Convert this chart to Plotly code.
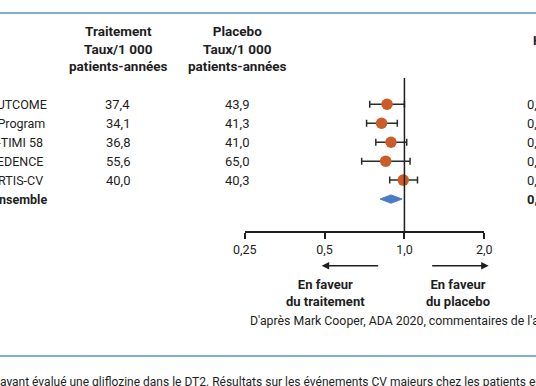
import numpy as np
import plotly.graph_objects as go

W, H = 536, 386

# ---------------- data ----------------
studies = ["EMPA-REG OUTCOME", "CANVAS Program", "DECLARE-TIMI 58", "CREDENCE", "VERTIS-CV"]
overall_label = "Ensemble"
taux_traitement = ["37,4", "34,1", "36,8", "55,6", "40,0"]
taux_placebo = ["43,9", "41,3", "41,0", "65,0", "40,3"]
hr = [0.86, 0.82, 0.89, 0.85, 0.99]
hr_low = [0.74, 0.72, 0.78, 0.69, 0.88]
hr_high = [1.00, 0.94, 1.02, 1.05, 1.12]
overall_hr = 0.89
overall_low = 0.81
overall_high = 0.98
hr_text = ["0,86 (0,74-0,99)", "0,86 (0,75-0,97)", "0,93 (0,84-1,03)",
           "0,80 (0,67-0,95)", "0,97 (0,85-1,11)"]
overall_text = "0,88 (0,82-0,94)"
tick_vals = [0.25, 0.5, 1.0, 2.0]
tick_text = ["0,25", "0,5", "1,0", "2,0"]

# ---------------- layout helpers ----------------
FONT = "Roboto"
TXT = "#1e1e1e"
BLUE_LINE = "#86abd6"
ROW0 = 104.3      # pixel of first row
ROWSTEP = 18.95   # pixel per row

def px(x):
    return x / W

def py(y):
    return 1 - y / H

rows = list(range(len(studies)))
overall_row = len(studies)

fig = go.Figure()

# CI + point estimate
fig.add_trace(go.Scatter(
    x=hr, y=rows, mode="markers",
    marker=dict(size=11.5, color="#c95c29"),
    error_x=dict(type="data", symmetric=False,
                 array=[h - e for h, e in zip(hr_high, hr)],
                 arrayminus=[e - l for e, l in zip(hr, hr_low)],
                 color="#2a2a2a", thickness=1.5, width=3.5),
    cliponaxis=False, hoverinfo="skip", showlegend=False))

# overall diamond
dh = 0.22
fig.add_trace(go.Scatter(
    x=[overall_low, overall_hr, overall_high, overall_hr, overall_low],
    y=[overall_row, overall_row - dh, overall_row, overall_row + dh, overall_row],
    mode="lines", fill="toself", fillcolor="#4a7cc3",
    line=dict(color="#4a7cc3", width=1),
    hoverinfo="skip", showlegend=False))

# reference line at 1
fig.add_shape(type="line", xref="x", yref="paper", x0=1, x1=1,
              y0=py(78), y1=py(232), line=dict(color="#1e1e1e", width=1.5))

# blue separators
fig.add_shape(type="line", xref="paper", yref="paper", x0=0, x1=1,
              y0=py(13), y1=py(13), line=dict(color=BLUE_LINE, width=2))
fig.add_shape(type="line", xref="paper", yref="paper", x0=0, x1=1,
              y0=py(356), y1=py(356), line=dict(color=BLUE_LINE, width=2))

ann = []
def text(x, y, s, size=13, anchor="center", bold=False, yref="paper", color=TXT):
    ann.append(dict(x=x, y=y, xref="paper", yref=yref, text=("<b>%s</b>" % s) if bold else s,
                    showarrow=False, xanchor=anchor, yanchor="middle",
                    font=dict(family=FONT, size=size, color=color)))

# headers
text(px(118), py(48), "Traitement<br>Taux/1 000<br>patients-années", size=13.5, bold=True)
text(px(237), py(48), "Placebo<br>Taux/1 000<br>patients-années", size=13.5, bold=True)
text(px(531), py(40), "HR (IC 95 %)", size=13, anchor="left", bold=True)

# study names (cut by the left edge)
name_ends = [49, 47, 45, 45, 45]
for i, s in enumerate(studies):
    text(px(name_ends[i]), i, s, size=12.5, anchor="right", yref="y")
    text(px(117.5), i, taux_traitement[i], yref="y")
    text(px(237), i, taux_placebo[i], yref="y")
    text(px(525), i, hr_text[i], anchor="left", yref="y")
text(px(48.5), overall_row, overall_label, size=12.5, anchor="right", bold=True, yref="y")
text(px(525), overall_row, overall_text, anchor="left", bold=True, yref="y")

# favour labels
text(px(325), py(293), "En faveur<br>du traitement", size=13, bold=True)
text(px(458), py(293), "En faveur<br>du placebo", size=13, bold=True)

# arrows
ann.append(dict(x=px(321.7), y=py(265.7), xref="paper", yref="paper", ax=58, ay=0,
                text="", showarrow=True, arrowhead=2, arrowsize=1, arrowwidth=1.5,
                arrowcolor="#1e1e1e"))
ann.append(dict(x=px(488.7), y=py(265.7), xref="paper", yref="paper", ax=-58, ay=0,
                text="", showarrow=True, arrowhead=2, arrowsize=1, arrowwidth=1.5,
                arrowcolor="#1e1e1e"))

# source / caption
text(px(248), py(320.5), "D'après Mark Cooper, ADA 2020, commentaires de l'auteur.", size=12.3, anchor="left")
text(px(-2), py(381.5), "ayant évalué une gliflozine dans le DT2. Résultats sur les événements CV majeurs chez les patients en prévention.",
     size=12, anchor="left")

fig.update_layout(
    width=W, height=H, margin=dict(l=0, r=0, t=0, b=0, pad=0, autoexpand=False),
    autosize=False,
    paper_bgcolor="white", plot_bgcolor="white",
    annotations=ann,
    xaxis=dict(type="log", domain=[244.7 / W, 484.3 / W],
               range=[np.log10(0.25), np.log10(2.0)],
               tickvals=tick_vals, ticktext=tick_text,
               anchor="free", position=py(232), side="bottom",
               showline=True, linecolor="#1e1e1e", linewidth=1.5,
               ticks="outside", ticklen=6, tickwidth=1.5, tickcolor="#1e1e1e",
               showgrid=False, zeroline=False, automargin=False,
               tickfont=dict(family=FONT, size=12.5, color=TXT)),
    yaxis=dict(domain=[0, 1],
               range=[(H - ROW0) / ROWSTEP, -ROW0 / ROWSTEP],
               visible=False, showgrid=False, zeroline=False, automargin=False),
)

fig.write_html("out.html", config={"displayModeBar": False, "responsive": False},
               post_script="document.body.style.margin='0';document.body.style.overflow='hidden';")
